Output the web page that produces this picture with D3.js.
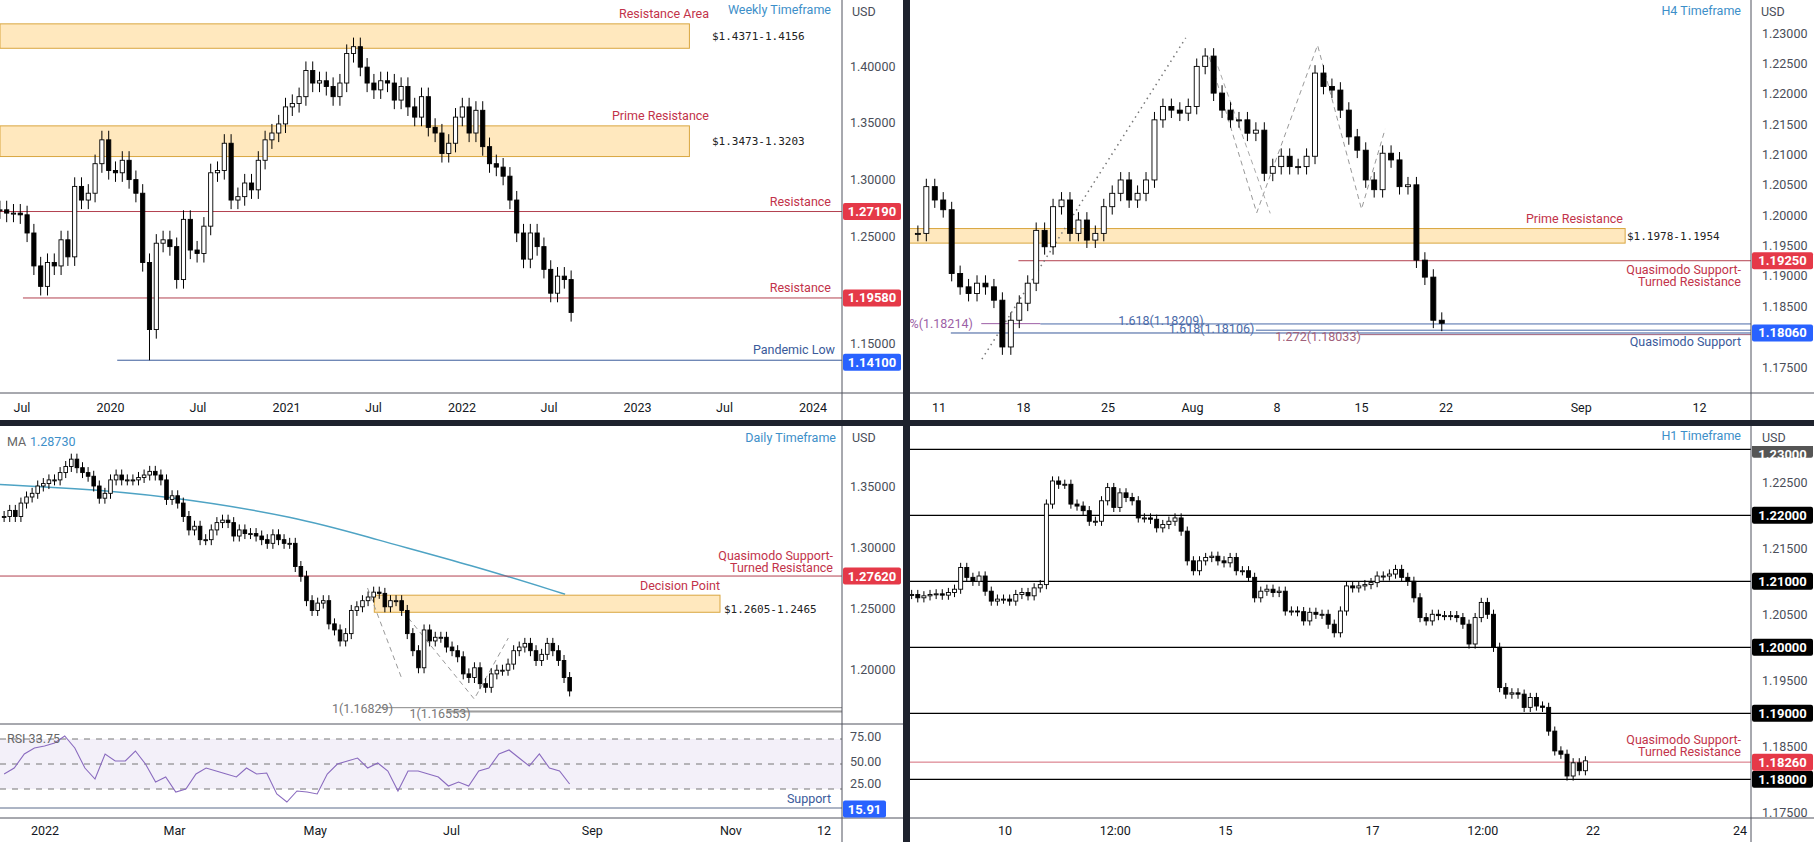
<!DOCTYPE html>
<html><head><meta charset="utf-8">
<script src="https://cdn.jsdelivr.net/npm/d3@7"></script>
<style>body{margin:0;background:#fff}svg{display:block;font-family:Roboto,"Liberation Sans",sans-serif}</style>
</head><body><svg id="c" width="1814" height="842"></svg>
<script>
// ---------- DATA ----------
const weeklyCloses=[1.2734,1.2705,1.2705,1.269,1.253,1.224,1.206,1.227,1.224,1.247,1.232,1.294,1.282,1.288,1.314,1.335,1.308,1.306,1.317,1.300,1.288,1.227,1.168,1.244,1.247,1.241,1.212,1.265,1.238,1.235,1.259,1.306,1.308,1.332,1.282,1.285,1.297,1.291,1.317,1.335,1.341,1.349,1.364,1.367,1.373,1.396,1.385,1.387,1.382,1.373,1.385,1.411,1.417,1.399,1.385,1.379,1.387,1.385,1.370,1.382,1.364,1.355,1.373,1.346,1.341,1.323,1.332,1.355,1.364,1.341,1.361,1.329,1.314,1.311,1.303,1.282,1.253,1.230,1.253,1.241,1.221,1.200,1.215,1.212,1.183];
const weeklyStart="2019-05-16", weeklyEnd="2022-08-16";
const weeklyLowOverride=[[22,1.141]];
const weeklyTicks=[["2019-07-01","Jul"],["2020-01-01","2020"],["2020-07-01","Jul"],["2021-01-01","2021"],["2021-07-01","Jul"],["2022-01-01","2022"],["2022-07-01","Jul"],["2023-01-01","2023"],["2023-07-01","Jul"],["2024-01-01","2024"]];
const weeklyYTicks=[1.40,1.35,1.30,1.25,1.15];

const h4Closes=[1.197,1.2047,1.2025,1.2009,1.1904,1.1882,1.1871,1.1888,1.1882,1.186,1.1783,1.1827,1.1855,1.1888,1.1975,1.1948,1.2014,1.2025,1.197,1.1992,1.1959,1.197,1.2014,1.2036,1.2058,1.2025,1.2036,1.2058,1.2157,1.2179,1.2173,1.2168,1.2179,1.2245,1.2262,1.2201,1.2173,1.2157,1.2157,1.2135,1.214,1.2069,1.208,1.2097,1.208,1.208,1.2097,1.2234,1.2212,1.2206,1.2173,1.2129,1.2107,1.2058,1.2042,1.2102,1.2091,1.2047,1.205,1.1926,1.1898,1.1827,1.1822];
const h4FirstDay=-1.25;
const h4Ticks=[[0,"11"],[5,"18"],[10,"25"],[15,"Aug"],[20,"8"],[25,"15"],[30,"22"],[38,"Sep"],[45,"12"]];
const h4YTicks=[1.23,1.225,1.22,1.215,1.21,1.205,1.20,1.195,1.19,1.185,1.175];

const dailyCloses=[1.325,1.330,1.325,1.336,1.341,1.344,1.350,1.352,1.355,1.355,1.361,1.366,1.372,1.365,1.361,1.358,1.350,1.340,1.344,1.355,1.359,1.355,1.355,1.355,1.357,1.359,1.362,1.359,1.355,1.339,1.342,1.336,1.325,1.314,1.317,1.306,1.306,1.314,1.320,1.322,1.320,1.309,1.314,1.311,1.311,1.309,1.306,1.303,1.310,1.306,1.303,1.303,1.284,1.276,1.256,1.248,1.254,1.256,1.237,1.232,1.223,1.229,1.248,1.251,1.256,1.259,1.263,1.262,1.251,1.256,1.256,1.248,1.229,1.215,1.201,1.232,1.223,1.226,1.226,1.218,1.215,1.210,1.196,1.193,1.201,1.188,1.185,1.196,1.199,1.199,1.204,1.215,1.218,1.221,1.215,1.207,1.212,1.221,1.215,1.207,1.193,1.182];
const dailyStart="2021-12-16", dailyEnd="2022-08-22";
const maLine=[["2021-12-13",1.3514],["2022-01-15",1.3481],["2022-02-24",1.3424],["2022-04-25",1.3244],["2022-05-28",1.3064],["2022-07-10",1.2851],["2022-08-20",1.2613]];
const rsiValues=[40,46,60,66,68,71,78,66,46,35,60,53,53,63,50,32,37,22,25,40,46,43,40,37,46,40,41,20,12,23,22,20,40,50,53,56,46,51,43,23,43,43,40,37,28,32,28,43,46,60,64,56,48,60,46,43,30];
const dailyTicks=[["2022-01-03","2022"],["2022-03-01","Mar"],["2022-05-02","May"],["2022-07-01","Jul"],["2022-09-01","Sep"],["2022-11-01","Nov"],["2022-12-12","12"]];
const dailyYTicks=[1.35,1.30,1.25,1.20];
const rsiTicks=[75,50,25];
const dailyPattern=[["2022-05-25",1.2664],["2022-06-09",1.1926]];
const dailyPattern2=[["2022-06-12",1.2418],["2022-07-11",1.1754],["2022-07-26",1.2254]];

const h1Closes=[1.2080,1.2075,1.2078,1.2080,1.2081,1.2079,1.2083,1.2088,1.2121,1.2106,1.2100,1.2108,1.2085,1.2070,1.2073,1.2073,1.2070,1.2080,1.2083,1.2078,1.2090,1.2095,1.2217,1.2252,1.2247,1.2247,1.2217,1.2214,1.2207,1.2191,1.2191,1.2222,1.2242,1.2212,1.2234,1.2227,1.2222,1.2196,1.2196,1.2194,1.2181,1.2186,1.2191,1.2196,1.2176,1.2131,1.2116,1.2131,1.2136,1.2138,1.2131,1.2128,1.2136,1.2116,1.2116,1.2106,1.2075,1.2085,1.2088,1.2083,1.2085,1.2055,1.2055,1.2054,1.2040,1.2053,1.2050,1.2050,1.2035,1.2022,1.2055,1.2093,1.2090,1.2093,1.2095,1.2098,1.2108,1.2108,1.2111,1.2118,1.2106,1.2100,1.2075,1.2045,1.2040,1.2050,1.2048,1.2048,1.2048,1.2045,1.2035,1.2005,1.2045,1.2068,1.2050,1.2000,1.1939,1.1929,1.1931,1.1929,1.1909,1.1924,1.1911,1.1909,1.1873,1.1843,1.1838,1.1805,1.1825,1.1813,1.1828];
const h1FirstSlot=-2.54, h1BarsPerSlot=6;
const h1Ticks=[[0,"10"],[3,"12:00"],[6,"15"],[10,"17"],[13,"12:00"],[16,"22"],[20,"24"]];
const h1YTicks=[1.225,1.215,1.205,1.195,1.185,1.175];
const h1Levels=[1.23,1.22,1.21,1.20,1.19,1.18];

// ---------- HELPERS ----------
const svg=d3.select("#c");
const P=d3.timeParse("%Y-%m-%d");
const AX="#131722", GRID="#50535e", RED="#e53948", BLUE="#2962ff", TXT="#4a4e59";
const f5=d3.format(".5f");
function clip(id,x,y,w,h){svg.append("clipPath").attr("id",id).append("rect").attr("x",x).attr("y",y).attr("width",w).attr("height",h);}
function toOHLC(closes,pad){return closes.map((c,i)=>{const o=i?closes[i-1]:c;return{o,c,h:Math.max(o,c)+pad,l:Math.min(o,c)-pad};});}
function candles(g,data,xf,y,w){
  const gg=g.append("g");
  data.forEach((d,i)=>{const x=xf(d,i);
    gg.append("line").attr("x1",x).attr("x2",x).attr("y1",y(d.h)).attr("y2",y(d.l)).attr("stroke","#000").attr("stroke-width",1);
    const up=d.c>=d.o, t=y(Math.max(d.o,d.c)), b=y(Math.min(d.o,d.c));
    gg.append("rect").attr("x",x-w/2).attr("y",t).attr("width",w).attr("height",Math.max(1,b-t))
      .attr("fill",up?"#fff":"#000").attr("stroke","#000").attr("stroke-width",0.9);
  });}
function tag(x,y,txt,bg,w,dy){svg.append("rect").attr("x",x).attr("y",y-8.5).attr("width",w||58).attr("height",17).attr("rx",2).attr("fill",bg);
  svg.append("text").attr("x",x+(w||58)/2).attr("y",y+4.5+(dy||0)).attr("text-anchor","middle").attr("fill","#fff").attr("font-size",13).attr("font-weight","bold").text(txt);}
function txt(x,y,s,col,anchor,size,fam){return svg.append("text").attr("x",x).attr("y",y).attr("fill",col).attr("text-anchor",anchor||"start").attr("font-size",size||12.5).attr("font-family",fam||null).text(s);}
function frame(x0,x1,y0,axisX,xAxisY,bottom,noUsd){
  svg.append("line").attr("x1",axisX).attr("x2",axisX).attr("y1",y0).attr("y2",bottom).attr("stroke",GRID);
  svg.append("line").attr("x1",x0).attr("x2",x1).attr("y1",xAxisY).attr("y2",xAxisY).attr("stroke",GRID);
  if(!noUsd) txt(axisX+10,y0+16,"USD",TXT,"start",12.5);
}
function box(g,x0,x1,p0,p1,y){g.append("rect").attr("x",x0).attr("y",y(p0)).attr("width",x1-x0).attr("height",y(p1)-y(p0)).attr("fill","#ffe0a8").attr("fill-opacity",0.75).attr("stroke","#d9a640").attr("stroke-width",1);}
function hline(g,x0,x1,p,y,col,w){g.append("line").attr("x1",x0).attr("x2",x1).attr("y1",y(p)).attr("y2",y(p)).attr("stroke",col).attr("stroke-width",w||1);}

// ---------- TOP-LEFT WEEKLY ----------
{
  const x=d3.scaleTime().domain([P("2019-07-01"),P("2024-01-01")]).range([22,813]);
  const y=d3.scaleLinear().domain([1.15,1.40]).range([350,66]);
  clip("c1",0,0,842,393);
  const g=svg.append("g").attr("clip-path","url(#c1)");
  box(g,0,x(P("2023-04-19")),1.4371,1.4156,y);
  box(g,0,x(P("2023-04-19")),1.3473,1.3203,y);
  hline(g,0,842,1.2719,y,"#b2404f");
  hline(g,x(P("2019-07-03")),842,1.1958,y,"#b2404f");
  hline(g,x(P("2020-01-15")),842,1.141,y,"#3a5a9a");
  const data=toOHLC(weeklyCloses,0.008);
  weeklyLowOverride.forEach(([i,v])=>data[i].l=v);
  const s=P(weeklyStart),e=P(weeklyEnd),n=data.length;
  candles(g,data,(d,i)=>x(new Date(+s+(e-s)*i/(n-1))),y,4.2);
  frame(0,903,0,842,393,420);
  weeklyTicks.forEach(([d,l])=>txt(x(P(d)),412,l,AX,"middle",12.5));
  weeklyYTicks.forEach(v=>txt(850,y(v)+(v===1.15?-2:4.5),f5(v),TXT,"start",12.5));
  txt(831,14,"Weekly Timeframe","#3d8fc9","end");
  txt(709,18,"Resistance Area","#c2334a","end");
  txt(712,40,"$1.4371-1.4156","#222","start",11,"DejaVu Sans Mono");
  txt(709,120,"Prime Resistance","#c2334a","end");
  txt(712,145,"$1.3473-1.3203","#222","start",11,"DejaVu Sans Mono");
  txt(831,206,"Resistance","#c2334a","end");
  txt(831,292,"Resistance","#c2334a","end");
  txt(835,354,"Pandemic Low","#3a5a9a","end");
  tag(843,y(1.2719),"1.27190",RED);
  tag(843,y(1.1958),"1.19580",RED);
  tag(843,y(1.141)+2,"1.14100",BLUE);
}

// ---------- TOP-RIGHT H4 ----------
{
  const x=d3.scaleLinear().domain([0,30]).range([939,1446]);
  const y=d3.scaleLinear().domain([1.175,1.23]).range([367,33]);
  clip("c2",910,0,841,393);
  const g=svg.append("g").attr("clip-path","url(#c2)");
  box(g,905,x(40.6),1.1978,1.1954,y);
  hline(g,x(4.7),1751,1.1925,y,"#b2404f");
  hline(g,x(2.5),x(6),1.18214,y,"#9c5fa6");
  hline(g,x(6),1751,1.18209,y,"#4a6aa8");
  hline(g,x(0.7),1751,1.1806,y,"#3a5a9a");
  hline(g,x(18.75),1751,1.18106,y,"#4a6aa8");
  hline(g,x(24.9),1751,1.18033,y,"#a0607a");
  g.append("line").attr("x1",x(2.54)).attr("y1",y(1.1763)).attr("x2",x(14.6)).attr("y2",y(1.2292)).attr("stroke","#777").attr("stroke-width",1.5).attr("stroke-dasharray","1.5,4");
  const pat=[[16.0,1.226],[18.8,1.2004],[22.4,1.228],[25.0,1.201],[26.4,1.2142]];
  g.append("path").attr("d",d3.line().x(d=>x(d[0])).y(d=>y(d[1]))(pat)).attr("fill","none").attr("stroke","#999").attr("stroke-dasharray","5,4");
  g.append("path").attr("d",d3.line().x(d=>x(d[0])).y(d=>y(d[1]))([[16.5,1.2245],[19.6,1.2003]])).attr("fill","none").attr("stroke","#aaa").attr("stroke-dasharray","5,4");
  const data=toOHLC(h4Closes,0.0013);
  candles(g,data,(d,i)=>x(h4FirstDay+i*0.5),y,5);
  frame(910,1814,0,1751,393,420);
  h4Ticks.forEach(([d,l])=>txt(x(d),412,l,AX,"middle",12.5));
  h4YTicks.forEach(v=>txt(1762,y(v)+4.5,f5(v),TXT,"start",12.5));
  txt(1741,15,"H4 Timeframe","#3d8fc9","end");
  txt(1623,223,"Prime Resistance","#c2334a","end");
  txt(1627,240,"$1.1978-1.1954","#222","start",11,"DejaVu Sans Mono");
  txt(1741,274,"Quasimodo Support-","#c2334a","end");
  txt(1741,286,"Turned Resistance","#c2334a","end");
  txt(1741,346,"Quasimodo Support","#3a5a9a","end");
  g.append("text").attr("x",x(2.0)).attr("y",y(1.18214)+4).attr("text-anchor","end").attr("fill","#9c5fa6").attr("font-size",12.5).text("0%(1.18214)");
  txt(x(10.6),y(1.18209)+1,"1.618(1.18209)","#4a6aa8","start");
  txt(x(13.6),y(1.18106)+3,"1.618(1.18106)","#4a6aa8","start");
  txt(x(19.9),y(1.18033)+6,"1.272(1.18033)","#a0607a","start");
  tag(1752,y(1.1925),"1.19250",RED,61);
  tag(1752,y(1.1806),"1.18060",BLUE,61);
}

// ---------- BOTTOM-LEFT DAILY ----------
{
  const x=d3.scaleTime().domain([P("2022-01-03"),P("2022-12-12")]).range([45,824]);
  const y=d3.scaleLinear().domain([1.20,1.35]).range([669,486]);
  const yr=d3.scaleLinear().domain([25,75]).range([789,739]);
  clip("c3",0,426,842,298);
  const g=svg.append("g").attr("clip-path","url(#c3)");
  g.append("path").attr("d",d3.line().curve(d3.curveBasis).x(d=>x(P(d[0]))).y(d=>y(d[1]))(maLine)).attr("fill","none").attr("stroke","#4ea3c4").attr("stroke-width",1.5);
  hline(g,0,842,1.2762,y,"#b2404f");
  box(g,x(P("2022-05-28")),720,1.2605,1.2465,y);
  hline(g,x(P("2022-05-30")),842,1.16829,y,"#888");
  hline(g,x(P("2022-06-29")),842,1.16553,y,"#888");
  hline(g,x(P("2022-06-29")),842,1.1648,y,"#888");
  g.append("path").attr("d",d3.line().x(d=>x(P(d[0]))).y(d=>y(d[1]))(dailyPattern)).attr("fill","none").attr("stroke","#999").attr("stroke-dasharray","5,4");
  g.append("path").attr("d",d3.line().x(d=>x(P(d[0]))).y(d=>y(d[1]))(dailyPattern2)).attr("fill","none").attr("stroke","#999").attr("stroke-dasharray","5,4");
  const data=toOHLC(dailyCloses,0.0045);
  const s=P(dailyStart),e=P(dailyEnd),n=data.length;
  candles(g,data,(d,i)=>x(new Date(+s+(e-s)*i/(n-1))),y,3.6);
  svg.append("rect").attr("x",0).attr("y",yr(75)).attr("width",842).attr("height",yr(25)-yr(75)).attr("fill","#7e57c2").attr("fill-opacity",0.09);
  rsiTicks.forEach(v=>svg.append("line").attr("x1",0).attr("x2",842).attr("y1",yr(v)).attr("y2",yr(v)).attr("stroke","#777").attr("stroke-width",1).attr("stroke-dasharray","6,6"));
  const nr=rsiValues.length;
  svg.append("path").attr("d",d3.line().x((d,i)=>x(new Date(+s+(e-s)*i/(nr-1)))).y(d=>yr(d))(rsiValues)).attr("fill","none").attr("stroke","#8a6bbf").attr("stroke-width",1.1);
  svg.append("line").attr("x1",0).attr("x2",842).attr("y1",808).attr("y2",808).attr("stroke","#5a6b8a");
  svg.append("line").attr("x1",0).attr("x2",903).attr("y1",724).attr("y2",724).attr("stroke",GRID);
  frame(0,903,426,842,818,842);
  dailyTicks.forEach(([d,l])=>txt(x(P(d)),835,l,AX,"middle",12.5));
  dailyYTicks.forEach(v=>txt(850,y(v)+4.5,f5(v),TXT,"start",12.5));
  rsiTicks.forEach(v=>txt(850,yr(v)+(v===25?-1:2),v.toFixed(2),TXT,"start",12.5));
  txt(7,446,"MA","#666"); txt(30,446,"1.28730","#3d8fc9");
  txt(836,442,"Daily Timeframe","#3d8fc9","end");
  txt(833,560,"Quasimodo Support-","#c2334a","end");
  txt(833,572,"Turned Resistance","#c2334a","end");
  txt(720,590,"Decision Point","#c2334a","end");
  txt(724,613,"$1.2605-1.2465","#222","start",11,"DejaVu Sans Mono");
  txt(393,713,"1(1.16829)","#777","end");
  txt(440,718,"1(1.16553)","#777","middle");
  txt(7,743,"RSI  33.75","#666");
  txt(831,803,"Support","#3a5a9a","end");
  tag(843,y(1.2762),"1.27620",RED);
  tag(843,809,"15.91",BLUE,43);
}

// ---------- BOTTOM-RIGHT H1 ----------
{
  const x=d3.scaleLinear().domain([0,20]).range([1005,1740]);
  const y=d3.scaleLinear().domain([1.18,1.20]).range([779.3,647.3]);
  clip("c4",910,426,841,392);
  const g=svg.append("g").attr("clip-path","url(#c4)");
  h1Levels.forEach(v=>hline(g,910,1751,v,y,"#000",1.3));
  hline(g,910,1751,1.1826,y,"#d46a78");
  const data=toOHLC(h1Closes,0.0007);
  candles(g,data,(d,i)=>x(h1FirstSlot+i/h1BarsPerSlot),y,4);
  frame(910,1814,426,1751,818,842,true);
  h1Ticks.forEach(([d,l])=>txt(x(d),835,l,AX,"middle",12.5));
  h1YTicks.forEach(v=>txt(1762,y(v)+4.5,f5(v),TXT,"start",12.5));
  tag(1752,y(1.23),"1.23000","#555",61,5);
  svg.append("rect").attr("x",1752).attr("y",427).attr("width",61).attr("height",19).attr("fill","#fff");
  txt(1762,442,"USD",TXT,"start",12.5);
  h1Levels.slice(1).forEach(v=>tag(1752,y(v),f5(v),"#000",61));
  tag(1752,y(1.1826),"1.18260",RED,61);
  txt(1741,440,"H1 Timeframe","#3d8fc9","end");
  txt(1741,744,"Quasimodo Support-","#c2334a","end");
  txt(1741,756,"Turned Resistance","#c2334a","end");
}
svg.append("rect").attr("x",903).attr("y",0).attr("width",7).attr("height",842).attr("fill","#1e222d");
svg.append("rect").attr("x",0).attr("y",420).attr("width",1814).attr("height",6).attr("fill","#1e222d");
</script></body></html>
